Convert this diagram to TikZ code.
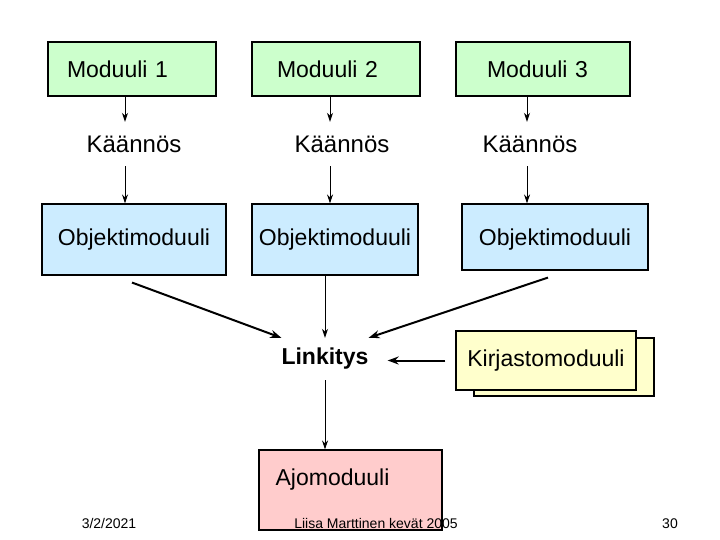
\documentclass[tikz,border=0pt]{standalone}
\usepackage{fontspec}
\setmainfont{Liberation Sans}
\usetikzlibrary{arrows.meta}
\definecolor{modgreen}{RGB}{204,255,204}
\definecolor{objblue}{RGB}{204,236,255}
\definecolor{libyellow}{RGB}{255,255,204}
\definecolor{exepink}{RGB}{255,204,204}
\begin{document}
\begin{tikzpicture}[x=1pt, y=-1pt,
  box/.style={rectangle, draw, line width=1.1pt, fill=#1, inner sep=0pt,
    font=\fontsize{23}{27}\selectfont},
  word/.style={inner sep=0pt, minimum height=44pt, font=\fontsize{24}{28}\selectfont},
  foot/.style={anchor=base, inner sep=0pt, font=\fontsize{14}{16}\selectfont},
  arr/.style={-{Stealth[length=9pt,width=6pt]}, line width=0.9pt},
  fat/.style={-{Stealth[length=11pt,width=8pt]}, line width=2pt}
]
\useasboundingbox (0,0) rectangle (720,540);
% source modules
\node[box=modgreen, minimum width=168pt, minimum height=54pt, text width=130pt, align=left] (mod1) at (132,69) {Moduuli 1};
\node[box=modgreen, minimum width=168pt, minimum height=54pt, text width=118pt, align=left] (mod2) at (336,69) {Moduuli 2};
\node[box=modgreen, minimum width=174pt, minimum height=54pt, text width=112pt, align=left] (mod3) at (543,69) {Moduuli 3};
\node[word] (kaan1) at (134,144) {Käännös};
\node[word] (kaan2) at (342,144) {Käännös};
\node[word] (kaan3) at (530,144) {Käännös};
\node[box=objblue, minimum width=184pt, minimum height=71pt] (obj1) at (134,239.5) {Objektimoduuli};
\node[box=objblue, minimum width=166pt, minimum height=71pt] (obj2) at (335,239.5) {Objektimoduuli};
\node[box=objblue, minimum width=186pt, minimum height=66pt, text height=21pt] (obj3) at (555,237) {Objektimoduuli};
% linking
\node[word, minimum width=84pt, minimum height=42pt, font=\fontsize{23}{27}\selectfont\bfseries] (link) at (325,359) {Linkitys};
\node[box=libyellow, minimum width=180pt, minimum height=58pt] (kirjb) at (564,367) {};
\node[box=libyellow, minimum width=180pt, minimum height=59pt] (kirj) at (546,360.5) {Kirjastomoduuli};
\node[box=exepink, minimum width=183pt, minimum height=80pt] (ajo) at (350.5,490) {};
\node[anchor=west, inner sep=0pt, font=\fontsize{23}{27}\selectfont] (ajot) at ([xshift=17pt,yshift=10pt]ajo.west) {Ajomoduuli};
% arrows
\foreach \m/\k/\x in {mod1/kaan1/125, mod2/kaan2/330, mod3/kaan3/527} {
  \draw[arr] (\m.south -| \x,0) -- (\k.north -| \x,0);
}
\foreach \k/\o/\x in {kaan1/obj1/125, kaan2/obj2/330, kaan3/obj3/527} {
  \draw[arr] (\k.south -| \x,0) -- (\o.north -| \x,0);
}
\draw[fat] ([xshift=-2pt,yshift=-7pt]obj1.south) -- (link.north west);
\draw[arr] (obj2.south -| link.north) -- (link.north);
\draw[fat] ([xshift=-7pt,yshift=-7pt]obj3.south) -- (link.north east);
\draw[fat] ([xshift=-10pt]kirj.west) -- ([xshift=19pt]kirj.west -| link.east);
\draw[arr] (link.south) -- (link.south |- ajo.north);
% footer
\node[foot] (date) at (109,528) {3/2/2021};
\node[foot] (who) at (376,528) {Liisa Marttinen kevät 2005};
\node[foot] (page) at (670,528) {30};
\end{tikzpicture}
\end{document}
